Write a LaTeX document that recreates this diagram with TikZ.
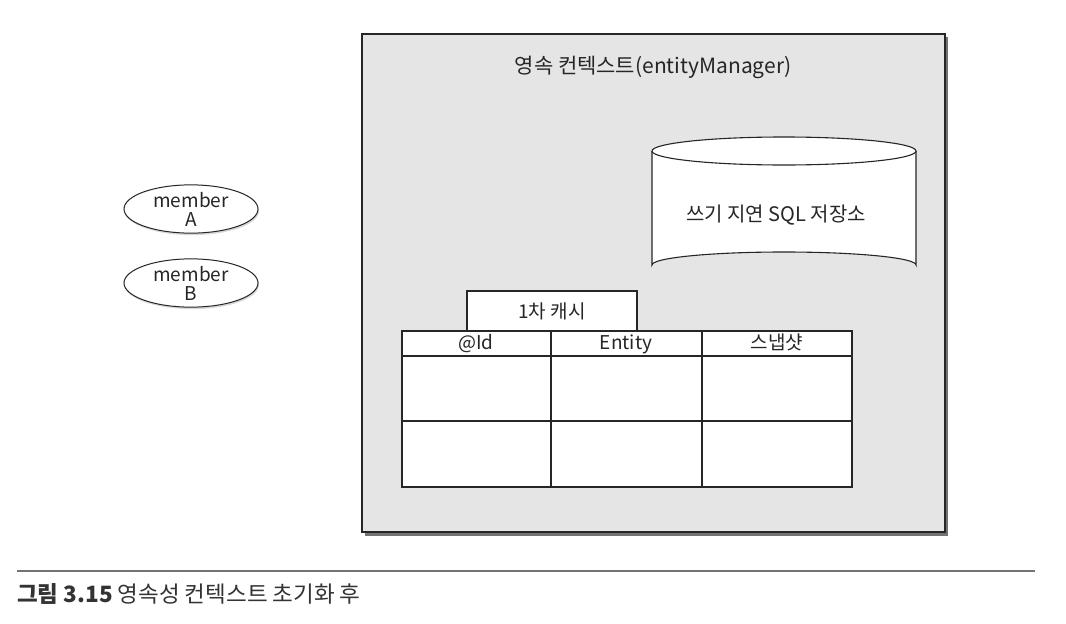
\documentclass[tikz,border=0pt]{standalone}
\usepackage{fontspec}
\setmainfont{Noto Sans CJK KR}
\usetikzlibrary{shapes.geometric,shadows}
\begin{document}
\begin{tikzpicture}[x=1pt,y=-1pt,
  lbl/.style={font=\fontsize{19}{21}\selectfont, text=black!85, inner sep=0pt},
  cell/.style={draw=black!85, line width=1.1pt, fill=white},
  member/.style={draw=black!85, line width=1pt, fill=white, ellipse, minimum width=134pt, minimum height=48pt, inner sep=0pt, align=center, font=\fontsize{19}{20}\selectfont, text=black!85, drop shadow={shadow xshift=1pt, shadow yshift=-2pt, opacity=0.3}}
]
\useasboundingbox (0,0) rectangle (1066,624);
\fill[white] (0,0) rectangle (1066,624);
% persistence context box
\fill[black!55] (365,37) rectangle (948,536);
\draw[draw=black!85, line width=1.2pt, fill=black!10] (362,34) rectangle (945,532);
\node[lbl, font=\fontsize{21}{23}\selectfont] (title) at (653,67) {영속 컨텍스트(entityManager)};
% cylinder
\draw[cell] (652,151) -- (652,265) arc[start angle=180, end angle=360, x radius=132, y radius=13] -- (916,151);
\draw[cell] (784,151) ellipse[x radius=132, y radius=14];
\node[lbl, font=\fontsize{20}{22}\selectfont] (sql) at (776,215) {쓰기 지연 SQL 저장소};
% first-level cache
\draw[cell] (467,291) rectangle (637,331);
\node[lbl] (cache) at (552,311) {1차 캐시};
\draw[cell] (402,331) rectangle (852,487);
\draw[draw=black!85, line width=1.1pt] (402,356) -- (852,356) (402,421) -- (852,421) (551,331) -- (551,487) (702,331) -- (702,487);
\node[lbl] (hid) at (476,344) {@Id};
\node[lbl] (hent) at (626,344) {Entity};
\node[lbl] (hsnap) at (777,342) {스냅샷};
% members
\node[member] (ma) at (191,209) {member\\[-1pt]A};
\node[member] (mb) at (191,283) {member\\[-1pt]B};
% caption
\draw[black!55, line width=1.2pt] (17,571) -- (1035,571);
\node[anchor=west, inner sep=0pt, font=\fontsize{22.5}{24}\selectfont, text=black!80] (cap) at (17,594) {\textbf{그림 3.15} 영속성 컨텍스트 초기화 후};
\end{tikzpicture}
\end{document}
